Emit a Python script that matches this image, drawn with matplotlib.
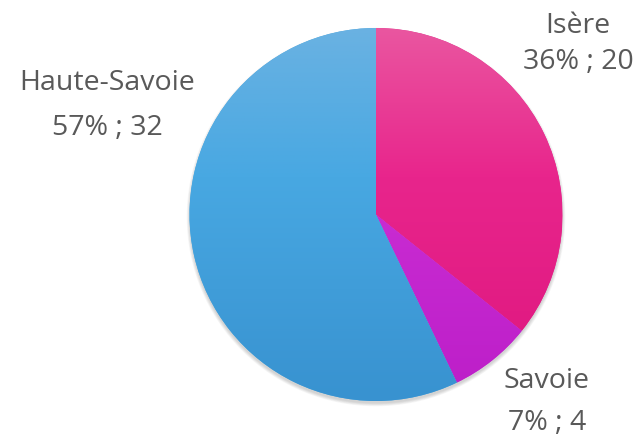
import numpy as np
import matplotlib.pyplot as plt
from matplotlib.colors import LinearSegmentedColormap
from matplotlib.patches import Circle

labels = ["Isère", "Savoie", "Haute-Savoie"]
values = [20, 4, 32]
percents = ["36%", "7%", "57%"]

# top / middle / bottom colours of each slice's vertical gradient
top_colors = ["#ea56a0", "#d04ad8", "#6ab2e2"]
mid_colors = ["#e8258c", "#cb2ed4", "#48a8e2"]
bottom_colors = ["#de167e", "#bc1ec8", "#3892d0"]

W, H = 644, 438
cx, cy, r = 376, H - 214.5, 186.5

plt.rcParams["font.family"] = ["Open Sans", "DejaVu Sans"]

fig = plt.figure(figsize=(W / 100, H / 100), dpi=100)
ax = fig.add_axes([0, 0, 1, 1])

# soft shadow under the pie, mostly at the bottom
for k in range(5):
    ax.add_patch(Circle((cx, cy - 2.5), r + 0.7 * k, color="#000000",
                        alpha=0.035, lw=0, zorder=0))

wedges, _ = ax.pie(values, startangle=90, counterclock=False,
                   center=(cx, cy), radius=r, colors=mid_colors,
                   wedgeprops=dict(linewidth=0))

grad = np.linspace(0, 1, 256).reshape(-1, 1)
for w, c0, c1, c2 in zip(wedges, top_colors, mid_colors, bottom_colors):
    w.set_zorder(1)
    cmap = LinearSegmentedColormap.from_list("g", [(0, c0), (0.4, c1), (1, c2)])
    im = ax.imshow(grad, cmap=cmap, aspect="auto", origin="upper",
                   extent=(cx - r, cx + r, cy - r, cy + r), zorder=2,
                   interpolation="bilinear")
    im.set_clip_path(w)

ax.set_xlim(0, W)
ax.set_ylim(0, H)
ax.set_aspect("auto")
ax.axis("off")

# label positions (centre x, baseline y of name, baseline y of value) in px
label_pos = [(578, 33, 69), (547, 388, 430), (107, 90, 135)]
for name, pct, v, (x, y1, y2) in zip(labels, percents, values, label_pos):
    ax.text(x, H - y1, name, ha="center", va="baseline", fontsize=20.5,
            color="#595959")
    ax.text(x, H - y2, f"{pct} ; {v}", ha="center", va="baseline",
            fontsize=20.5, color="#595959")

fig.savefig("out.png", dpi=100)
